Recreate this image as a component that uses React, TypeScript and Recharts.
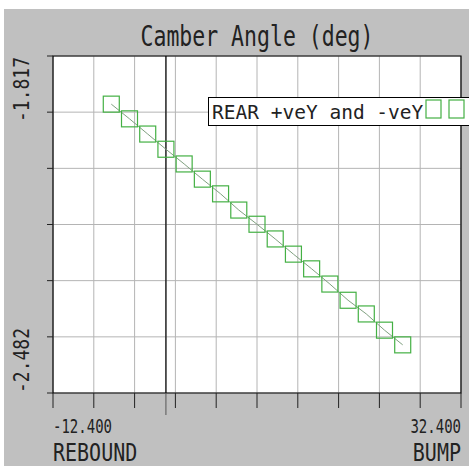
import React from "react"
import {
  CartesianGrid,
  Line,
  LineChart,
  ReferenceArea,
  ReferenceLine,
  XAxis,
  YAxis,
} from "recharts"

// wheel travel (mm) and rear camber (deg)
const wheelTravel = [-6, -4, -2, 0, 2, 4, 6, 8, 10, 12, 14, 16, 18, 20, 22, 24, 26]
const camberAngle = [
  -1.912, -1.941, -1.971, -2.001, -2.03, -2.06, -2.089, -2.121, -2.149,
  -2.178, -2.208, -2.237, -2.267, -2.299, -2.326, -2.358, -2.387,
]

const xTicks = [-12.4, -7.92, -3.44, 0, 1.04, 5.52, 10, 14.48, 18.96, 23.44, 27.92, 32.4]
const yTicks = [-2.482, -2.3712, -2.2603, -2.1495, -2.0387, -1.9278, -1.817]
const xEndLabels = ["-12.400", "32.400"]
const xEndWords = ["REBOUND", "BUMP"]
const yEndLabels = ["-2.482", "-1.817"]
const titleText = "Camber Angle (deg)"
const seriesName = "REAR +veY and -veY"

const X_MIN = -12.4
const X_MAX = 32.4
const Y_MIN = -2.482
const Y_MAX = -1.817

const FONT = "'DejaVu Sans Mono', monospace"
const INK = "#222"
const GREEN = "#44b044"

const data = wheelTravel.map((t, i) => ({ travel: t, camber: camberAngle[i] }))

function XTick(props: any) {
  const { x, y, payload } = props
  const v = payload.value
  const isZero = v === 0
  const atMin = v === X_MIN
  const atMax = v === X_MAX
  return (
    <g>
      <line x1={x} y1={y} x2={x} y2={y + (isZero ? 22 : 15)} stroke={isZero ? "#555" : INK} />
      {(atMin || atMax) && (
        <g>
          <text
            transform={`translate(${x},${y + 40}) scale(1,1.42)`}
            textAnchor={atMin ? "start" : "end"}
            fontFamily={FONT}
            fontSize={14}
            fill={INK}
          >
            {xEndLabels[atMin ? 0 : 1]}
          </text>
          <text
            transform={`translate(${x},${y + 68}) scale(1,1.28)`}
            textAnchor={atMin ? "start" : "end"}
            fontFamily={FONT}
            fontSize={20}
            fill={INK}
          >
            {xEndWords[atMin ? 0 : 1]}
          </text>
        </g>
      )}
    </g>
  )
}

function YTick(props: any) {
  const { x, y, payload } = props
  const v = payload.value
  return (
    <g>
      <line x1={x - 6} y1={y} x2={x} y2={y} stroke={INK} />
      {v === Y_MIN && (
        <text transform={`translate(${x - 24},${y}) rotate(-90) scale(1,1.22)`} fontFamily={FONT} fontSize={18} fill={INK}>
          {yEndLabels[0]}
        </text>
      )}
      {v === Y_MAX && (
        <text transform={`translate(${x - 24},${y + 1}) rotate(-90) scale(1,1.22)`} textAnchor="end" fontFamily={FONT} fontSize={18} fill={INK}>
          {yEndLabels[1]}
        </text>
      )}
    </g>
  )
}

const SquareDot = (props: any) => {
  const { cx, cy, index } = props
  if (cx == null || cy == null) return null
  return <rect key={`sq-${index}`} x={cx - 8} y={cy - 8} width={16} height={16} fill="none" stroke={GREEN} strokeWidth={1.2} />
}

export default function App() {
  return (
    <div style={{ position: "absolute", left: 0, top: 0, width: 469, height: 466, background: "#fff", overflow: "hidden" }}>
      <div style={{ position: "absolute", left: 4, top: 9, right: 0, bottom: 0, background: "#c0c0c0" }} />
      <div style={{ position: "absolute", left: 0, top: 0 }}>
        <LineChart width={469} height={466} data={data} margin={{ top: 56, right: 8, bottom: 72, left: 52 }}>
          <CartesianGrid stroke="#b4b4b4" fill="#fff" fillOpacity={1} />
          <XAxis
            type="number"
            dataKey="travel"
            domain={[X_MIN, X_MAX]}
            ticks={xTicks}
            interval={0}
            height={1}
            tickSize={0}
            tickMargin={0}
            axisLine={false}
            allowDataOverflow
            tick={(p: any) => <XTick {...p} />}
          />
          <YAxis
            type="number"
            domain={[Y_MIN, Y_MAX]}
            ticks={yTicks}
            interval={0}
            width={1}
            tickSize={0}
            tickMargin={0}
            axisLine={false}
            allowDataOverflow
            tick={(p: any) => <YTick {...p} />}
          />
          <ReferenceLine x={0} stroke="#000" strokeWidth={1.2} />
          <ReferenceArea x1={X_MIN} x2={X_MAX} y1={Y_MIN} y2={Y_MAX} fill="none" stroke="#000" strokeWidth={1.2} />
          <Line
            type="linear"
            dataKey="camber"
            stroke="#7fa07f"
            strokeWidth={1}
            dot={SquareDot}
            activeDot={false}
            isAnimationActive={false}
          />
        </LineChart>
      </div>

      {/* title */}
      <svg width={469} height={60} style={{ position: "absolute", left: 0, top: 0, pointerEvents: "none" }}>
        <text transform="translate(257,46) scale(1,1.28)" textAnchor="middle" fontFamily={FONT} fontSize={21.5} fill={INK}>
          {titleText}
        </text>
      </svg>

      {/* legend box */}
      <div style={{ position: "absolute", left: 208, top: 97, width: 261, height: 29, background: "#fff", border: "1.2px solid #000", borderRight: "none", boxSizing: "border-box" }}>
        <svg width={261} height={29} style={{ position: "absolute", left: 0, top: 0 }}>
          <text transform="translate(3,21) scale(1,1.0)" fontFamily={FONT} fontSize={19.5} fill={INK}>
            {seriesName}
          </text>
          <rect x={217} y={2} width={15} height={18} fill="none" stroke={GREEN} strokeWidth={1.2} />
          <rect x={240} y={2} width={15} height={18} fill="none" stroke={GREEN} strokeWidth={1.2} />
        </svg>
      </div>
    </div>
  )
}
